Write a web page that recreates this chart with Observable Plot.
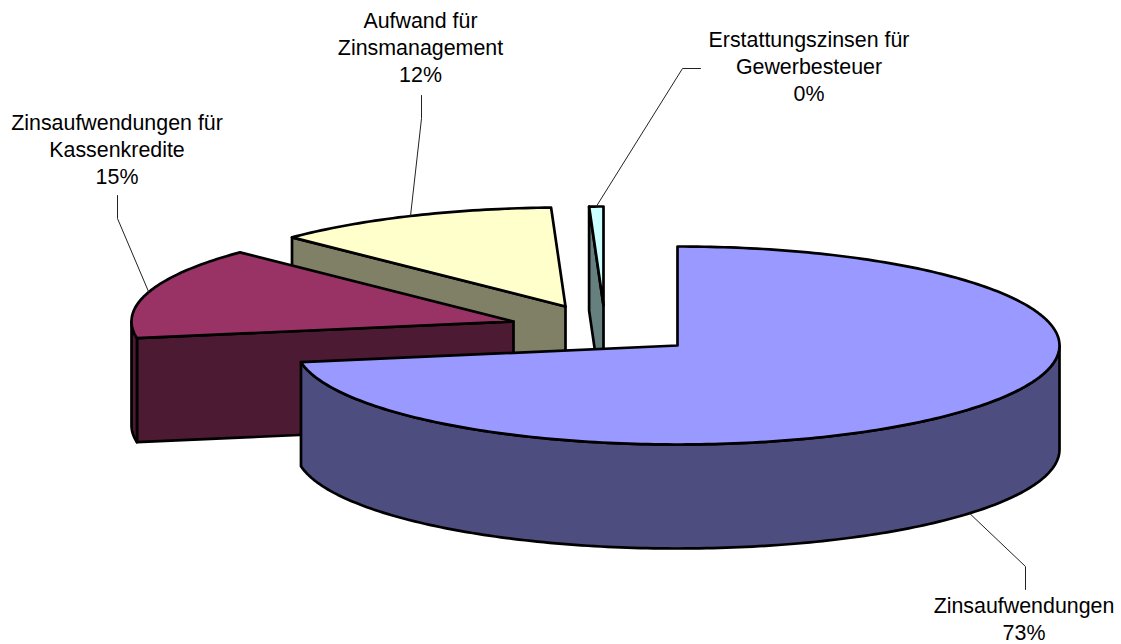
<!DOCTYPE html>
<html>
<head>
<meta charset="utf-8">
<script src="https://cdn.jsdelivr.net/npm/d3@7"></script>
<script src="https://cdn.jsdelivr.net/npm/@observablehq/plot@0.6"></script>
<style>
html,body{margin:0;padding:0;background:#fff;}
svg{display:block;}
</style>
</head>
<body>
<div id="chart"></div>
<script>
// Data
const categories = ["Zinsaufwendungen", "Zinsaufwendungen für\nKassenkredite", "Aufwand für\nZinsmanagement", "Erstattungszinsen für\nGewerbesteuer"];
const shares = [72.3, 15.0, 12.1, 0.6];
const percentLabels = ["73%", "15%", "12%", "0%"];
const topColors = ["#9999FF", "#993366", "#FFFFCC", "#CCFFFF"];
const sideColors = ["#4D4D80", "#4D1A33", "#808066", "#668080"];

// Exploded-pie projection (layout, separate from the data)
const rx = 382, ry = 99, depth = 104;
const centers = [[677, 345], [513, 321], [565, 306], [603, 305]];
const labelPos = [[1023.5, 617.5], [116.5, 148], [420, 45.5], [808.5, 65]];
const leaderBend = [
  [[1025, 566], [1025, 589]],
  [[117, 218], [117, 195]],
  [[421, 118], [421, 95]],
  [[682, 68], [700, 68]]
];

const rad = d => d * Math.PI / 180;
const rim = (i, t, dz = 0) => ({x: centers[i][0] + rx * Math.sin(rad(t)), y: centers[i][1] - ry * Math.cos(rad(t)) + dz});

let acc = 0;
const slices = shares.map((s, i) => {
  const a0 = acc * 3.6; acc += s;
  return {i, a0, a1: acc * 3.6, mid: (acc - s / 2) * 3.6};
});
const arc = (i, a, b, dz = 0) => {
  const n = Math.max(2, Math.ceil(Math.abs(b - a)));
  return d3.range(n + 1).map(k => rim(i, a + (b - a) * k / n, dz));
};
const poly = (pts, fill) => Plot.line(pts, {x: "x", y: "y", fill, stroke: "#000", strokeWidth: 2.7, curve: "linear-closed", strokeLinejoin: "round"});

const marks = [];
// paint back to front
[3, 2, 1, 0].forEach(i => {
  const {a0, a1} = slices[i];
  const apex = {x: centers[i][0], y: centers[i][1]};
  // cut face, when it faces the viewer
  if (i > 0) {
    const p = rim(i, a0);
    marks.push(poly([apex, p, {x: p.x, y: p.y + depth}, {x: apex.x, y: apex.y + depth}], sideColors[i]));
  }
  // outer wall, visible on the front half of the ellipse
  const w0 = Math.max(a0, 90), w1 = Math.min(a1, 270);
  if (w1 > w0) {
    marks.push(poly([...arc(i, w0, w1), ...arc(i, w1, w0, depth)], sideColors[i]));
  }
  // top surface
  marks.push(poly([apex, ...arc(i, a0, a1)], topColors[i]));
});

// leader lines
slices.forEach(({i, mid}) => {
  const start = rim(i, mid, i === 0 ? depth : 0);
  const pts = [start, ...leaderBend[i].map(([x, y]) => ({x, y}))];
  marks.push(Plot.line(pts, {x: "x", y: "y", stroke: "#222", strokeWidth: 1}));
});

// labels
marks.push(Plot.text(categories.map((c, i) => ({x: labelPos[i][0], y: labelPos[i][1], t: c + "\n" + percentLabels[i]})), {
  x: "x", y: "y", text: "t", fontSize: 21.4, lineHeight: 1.27, fill: "#000",
  fontFamily: "'Liberation Sans', Arial, sans-serif", textAnchor: "middle", lineAnchor: "middle"
}));

document.getElementById("chart").append(Plot.plot({
  width: 1121, height: 644, margin: 0,
  style: {background: "#fff", overflow: "visible"},
  x: {axis: null, domain: [0, 1121], range: [0, 1121]},
  y: {axis: null, domain: [0, 644], range: [0, 644]},
  marks
}));
</script>
</body>
</html>
